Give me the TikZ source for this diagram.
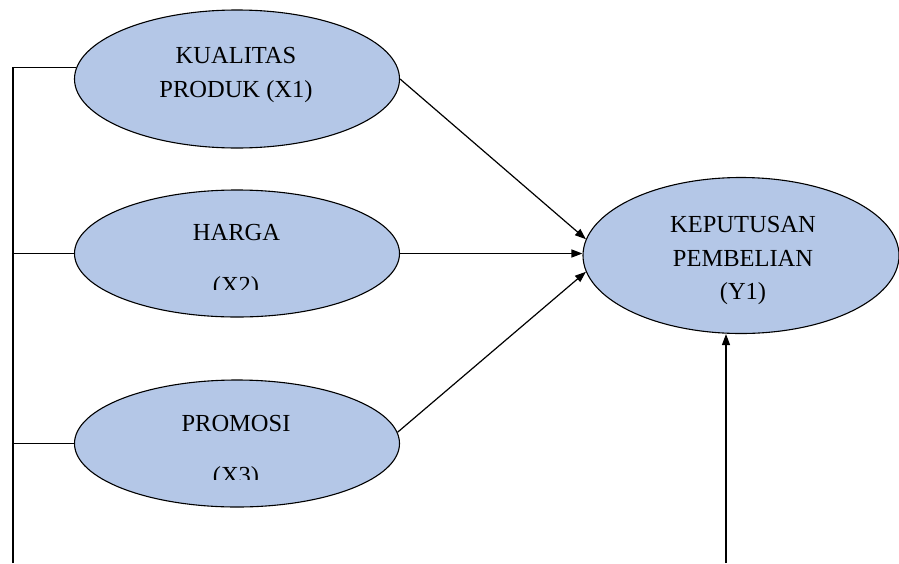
\documentclass[tikz,border=0pt]{standalone}
\usepackage{fontspec}
\setmainfont{Liberation Serif}
\usetikzlibrary{shapes.geometric,arrows.meta}
\definecolor{ovalfill}{HTML}{B4C7E7}
\begin{document}
\begin{tikzpicture}[x=1pt,y=-1pt,
  oval/.style={ellipse,draw=black,line width=1.1pt,fill=ovalfill,inner sep=0pt},
  lbl/.style={anchor=base,inner sep=0pt,font=\fontsize{24.5}{29}\selectfont},
  link/.style={line width=1.2pt},
  arr/.style={link,-{Triangle[length=11pt,width=8pt]}}]
\useasboundingbox (0,0) rectangle (899,563);
% ovals
\node[oval,minimum width=325pt,minimum height=138pt] (X1) at (237,79) {};
\node[oval,minimum width=325pt,minimum height=127pt] (X2) at (237,253.5) {};
\node[oval,minimum width=325pt,minimum height=127pt] (X3) at (237,443.5) {};
\node[oval,minimum width=316pt,minimum height=156pt] (Y1) at (741,255.5) {};
% labels
\node[lbl] (t1a) at (236,63) {KUALITAS};
\node[lbl] (t1b) at (236,97) {PRODUK (X1)};
\node[lbl] (t2a) at (236.5,240) {HARGA};
\begin{scope}
  \clip (150,262) rectangle (320,289.5);
  \node[lbl] (t2b) at (236,293) {(X2)};
\end{scope}
\node[lbl] (t3a) at (236,431) {PROMOSI};
\begin{scope}
  \clip (150,452) rectangle (320,479.5);
  \node[lbl] (t3b) at (236,483) {(X3)};
\end{scope}
\node[lbl] (ya) at (743,232) {KEPUTUSAN};
\node[lbl] (yb) at (743,266) {PEMBELIAN};
\node[lbl] (yc) at (743,299) {(Y1)};
% left bus
\coordinate (bus) at (13,563);
\draw[link] (bus) -- (bus |- X1.176) -- (X1.176);
\draw[link] (bus |- X2.west) -- (X2.west);
\draw[link] (bus |- X3.west) -- (X3.west);
% arrows
\draw[arr] (X1.east) -- (Y1.174);
\draw[arr] (X2.east) -- (X2.east -| Y1.west);
\draw[arr] (X3.4) -- (Y1.186);
\coordinate (bot) at (726,563);
\draw[arr] (bot) -- (bot |- Y1.south);
\end{tikzpicture}
\end{document}
